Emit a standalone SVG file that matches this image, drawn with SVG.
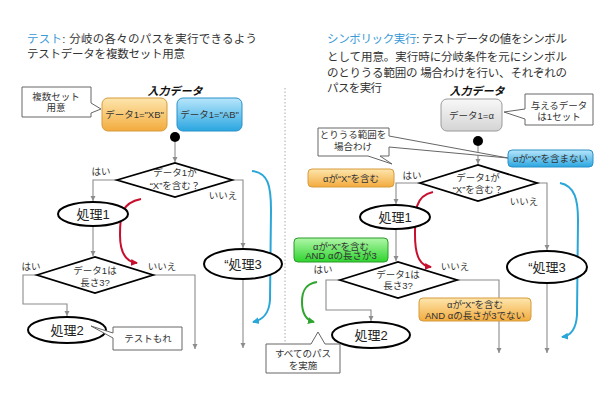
<svg xmlns="http://www.w3.org/2000/svg" width="610" height="400" viewBox="0 0 610 400">
<defs>
<style>
text{font-family:"Liberation Sans","Noto Sans CJK JP",sans-serif;fill:#333;text-anchor:middle}
.t{font-size:11.5px;text-anchor:start}
.hl{fill:#3a9ad6}
.s{font-size:9.5px}
.n{font-size:13px;fill:#222}
.h{font-size:11px;font-weight:bold;font-style:italic;fill:#111}
.ell{fill:#fff;stroke:#000;stroke-width:2}
.dia{fill:#fff;stroke:#000;stroke-width:1.8}
.co{fill:#fff;stroke:#666;stroke-width:1}
.ln{fill:none;stroke:#8c8c8c;stroke-width:1.1}
.cv{fill:none;stroke-width:2}
</style>
<linearGradient id="gO" x1="0" y1="0" x2="0" y2="1"><stop offset="0" stop-color="#fde6ad"/><stop offset="1" stop-color="#f3ab3e"/></linearGradient>
<linearGradient id="gB" x1="0" y1="0" x2="0" y2="1"><stop offset="0" stop-color="#b8e6fb"/><stop offset="1" stop-color="#2aa6e0"/></linearGradient>
<linearGradient id="gG" x1="0" y1="0" x2="0" y2="1"><stop offset="0" stop-color="#f8f8f8"/><stop offset="1" stop-color="#d4d4d4"/></linearGradient>
<linearGradient id="gN" x1="0" y1="0" x2="0" y2="1"><stop offset="0" stop-color="#b0f7a8"/><stop offset="1" stop-color="#2ed42e"/></linearGradient>
<marker id="aG" markerWidth="6" markerHeight="6" refX="5" refY="3" orient="auto" markerUnits="userSpaceOnUse"><path d="M0,0.5 L5,3 L0,5.5 Z" fill="#8c8c8c"/></marker>
<marker id="aR" markerWidth="8" markerHeight="8" refX="6" refY="4" orient="auto" markerUnits="userSpaceOnUse"><path d="M0,0.5 L7,4 L0,7.5 Z" fill="#c8102e"/></marker>
<marker id="aB" markerWidth="8" markerHeight="8" refX="6" refY="4" orient="auto" markerUnits="userSpaceOnUse"><path d="M0,0.5 L7,4 L0,7.5 Z" fill="#2aa6d8"/></marker>
<marker id="aN" markerWidth="8" markerHeight="8" refX="6" refY="4" orient="auto" markerUnits="userSpaceOnUse"><path d="M0,0.5 L7,4 L0,7.5 Z" fill="#2fa52f"/></marker>
</defs>
<rect width="610" height="400" fill="#fff"/>

<!-- titles -->
<g id="title-left">
<text class="t" x="27" y="43" textLength="230" lengthAdjust="spacing"><tspan class="hl">テスト</tspan>: 分岐の各々のパスを実行できるよう</text>
<text class="t" x="27" y="58" textLength="158" lengthAdjust="spacing">テストデータを複数セット用意</text>
</g>
<g id="title-right">
<text class="t" x="327" y="43" textLength="240" lengthAdjust="spacing"><tspan class="hl">シンボリック実行</tspan>: テストデータの値をシンボル</text>
<text class="t" x="327" y="61" textLength="240" lengthAdjust="spacing">として用意。実行時に分岐条件を元にシンボル</text>
<text class="t" x="327" y="76.5" textLength="240" lengthAdjust="spacing">のとりうる範囲の 場合わけを行い、それぞれの</text>
<text class="t" x="327" y="91.5" textLength="55" lengthAdjust="spacing">パスを実行</text>
</g>

<line x1="285" y1="88" x2="285" y2="342" stroke="#aaa" stroke-width="1" stroke-dasharray="1.5 2"/>

<!-- connectors -->
<g id="connectors">
<path class="ln" d="M175,142 V162" marker-end="url(#aG)"/>
<path class="ln" d="M117,180 H93 V201" marker-end="url(#aG)"/>
<path class="ln" d="M232,180 H243 V248" marker-end="url(#aG)"/>
<path class="ln" d="M93,226 V256" marker-end="url(#aG)"/>
<path class="ln" d="M37,275 H23 V304 H67 V316" marker-end="url(#aG)"/>
<path class="ln" d="M153,275 H195 V349" marker-end="url(#aG)"/>
<path class="ln" d="M243,279 V348" marker-end="url(#aG)"/>
<path class="ln" d="M478,146 V164" marker-end="url(#aG)"/>
<path class="ln" d="M420,183 H396 V204" marker-end="url(#aG)"/>
<path class="ln" d="M537,183 H547 V250" marker-end="url(#aG)"/>
<path class="ln" d="M396,229 V261" marker-end="url(#aG)"/>
<path class="ln" d="M340,280 H326 V310 H371 V321" marker-end="url(#aG)"/>
<path class="ln" d="M457,280 H499 V353" marker-end="url(#aG)"/>
<path class="ln" d="M547,283 V353" marker-end="url(#aG)"/>
<path class="cv" stroke="#c8102e" d="M141,199 C121,203 120,215 120,235 C120,255 127,262 137,263" marker-end="url(#aR)"/>
<path class="cv" stroke="#c8102e" d="M433,192 C415,196 415,210 415,235 C415,258 421,266 431,267" marker-end="url(#aR)"/>
<path class="cv" stroke="#2aa6d8" d="M252,171 C268,173 271,185 271,210 L270,300 C269,315 262,320 253,322" marker-end="url(#aB)"/>
<path class="cv" stroke="#2aa6d8" d="M560,183 C575,186 578,200 578,220 L577,315 C576,330 570,336 562,337" marker-end="url(#aB)"/>
<path class="cv" stroke="#2fa52f" d="M317,282 C303,284 302,295 302,302 C302,314 306,320 314,322" marker-end="url(#aN)"/>
</g>

<!-- left side nodes -->
<g id="callout-multi"><path class="co" d="M22,87 H91 V103 L101,109 L91,113 V117 H22 Z"/><text class="s" x="56" y="99.5">複数セット</text><text class="s" x="56" y="111">用意</text></g>
<g id="input-left"><text class="h" x="175" y="95">入力データ</text></g>
<g id="data-xb"><rect x="102" y="98" width="65" height="33" rx="6" fill="url(#gO)" stroke="#d69b3c"/><text class="s" x="134.5" y="118">データ1="XB"</text></g>
<g id="data-ab"><rect x="177" y="98" width="65" height="33" rx="6" fill="url(#gB)" stroke="#2a90c8"/><text class="s" x="209.5" y="118">データ1="AB"</text></g>
<g id="start-left"><circle cx="175" cy="137" r="5" fill="#000"/></g>
<g id="dec1-left"><path class="dia" d="M117,180 L175,163 L232,180 L175,197 Z"/><text class="s" x="175" y="176">データ1が</text><text class="s" x="175" y="189">“X”を含む？</text></g>
<g id="lbl-l1"><text class="s" x="101" y="174.5">はい</text><text class="s" x="223" y="199">いいえ</text></g>
<g id="proc1-left"><ellipse class="ell" cx="93" cy="214" rx="35" ry="12"/><text class="n" x="93" y="218.5">処理1</text></g>
<g id="proc3-left"><ellipse class="ell" cx="243" cy="264" rx="39" ry="15"/><text class="n" x="243" y="268.5">“処理3</text></g>
<g id="dec2-left"><path class="dia" d="M37,275 L95,257 L153,275 L95,293 Z"/><text class="s" x="95" y="273.5">データ1は</text><text class="s" x="95" y="286">長さ3?</text></g>
<g id="lbl-l2"><text class="s" x="31" y="269.5">はい</text><text class="s" x="162" y="269.5">いいえ</text></g>
<g id="proc2-left"><ellipse class="ell" cx="67" cy="330" rx="39" ry="13"/><text class="n" x="67" y="334.5">処理2</text></g>
<g id="callout-miss"><path class="co" d="M113,327 H182 V350 H113 V338 L91,326 L113,333 Z"/><text class="s" x="148" y="342">テストもれ</text></g>

<!-- right side nodes -->
<g id="input-right"><text class="h" x="477" y="95">入力データ</text></g>
<g id="data-alpha"><rect x="441" y="99" width="61" height="32" rx="6" fill="url(#gG)" stroke="#9a9a9a"/><text class="s" x="471.5" y="119">データ1=α</text></g>
<g id="callout-one"><path class="co" d="M525,94 H593 V125 H525 V119 L504,112 L525,109 Z"/><text class="s" x="559" y="108.5">与えるデータ</text><text class="s" x="559" y="120">は1セット</text></g>
<g id="start-right"><circle cx="478" cy="141" r="5" fill="#000"/></g>
<g id="callout-range"><path class="co" d="M318,128 H389 V136 L508,158 L389,147 V156 H380 L392,164 L368,156 H318 Z"/><text class="s" x="353" y="137.5">とりうる範囲を</text><text class="s" x="353" y="150">場合わけ</text></g>
<g id="lbl-notx"><rect x="508" y="150" width="85" height="17" rx="4" fill="url(#gB)" stroke="#2a90c8"/><text class="s" x="550.5" y="162">αが“X”を含まない</text></g>
<g id="lbl-x"><rect x="308" y="169" width="86" height="18" rx="4" fill="url(#gO)" stroke="#d69b3c"/><text class="s" x="351" y="181.5">αが“X”を含む</text></g>
<g id="dec1-right"><path class="dia" d="M420,183 L478,165 L537,183 L478,201 Z"/><text class="s" x="478" y="180.5">データ1が</text><text class="s" x="478" y="192.5">“X”を含む？</text></g>
<g id="lbl-r1"><text class="s" x="412" y="178.5">はい</text><text class="s" x="524" y="205">いいえ</text></g>
<g id="proc1-right"><ellipse class="ell" cx="395" cy="217" rx="35" ry="12"/><text class="n" x="395" y="221.5">処理1</text></g>
<g id="lbl-x3"><rect x="294" y="238" width="94" height="24" rx="4" fill="url(#gN)" stroke="#2a9a2a"/><text class="s" x="341" y="249.5">αが“X”を含む</text><text class="s" x="341" y="259">AND αの長さが3</text></g>
<g id="proc3-right"><ellipse class="ell" cx="547" cy="267" rx="40" ry="16"/><text class="n" x="547" y="271.5">“処理3</text></g>
<g id="dec2-right"><path class="dia" d="M340,280 L398,262 L457,280 L398,298 Z"/><text class="s" x="398" y="278">データ1は</text><text class="s" x="398" y="289">長さ3?</text></g>
<g id="lbl-r2"><text class="s" x="323" y="273">はい</text><text class="s" x="455" y="269.5">いいえ</text></g>
<g id="lbl-xnot3"><rect x="419" y="298" width="112" height="23" rx="4" fill="url(#gO)" stroke="#d69b3c"/><text class="s" x="475" y="307.5">αが“X”を含む</text><text class="s" x="475" y="318.5">AND αの長さが3でない</text></g>
<g id="proc2-right"><ellipse class="ell" cx="371" cy="335" rx="39" ry="13"/><text class="n" x="371" y="339.5">処理2</text></g>
<g id="callout-all"><path class="co" d="M266,344 H311 L318,332 L325,344 H340 V373 H266 Z"/><text class="s" x="303" y="356.5">すべてのパス</text><text class="s" x="303" y="369">を実施</text></g>
</svg>
